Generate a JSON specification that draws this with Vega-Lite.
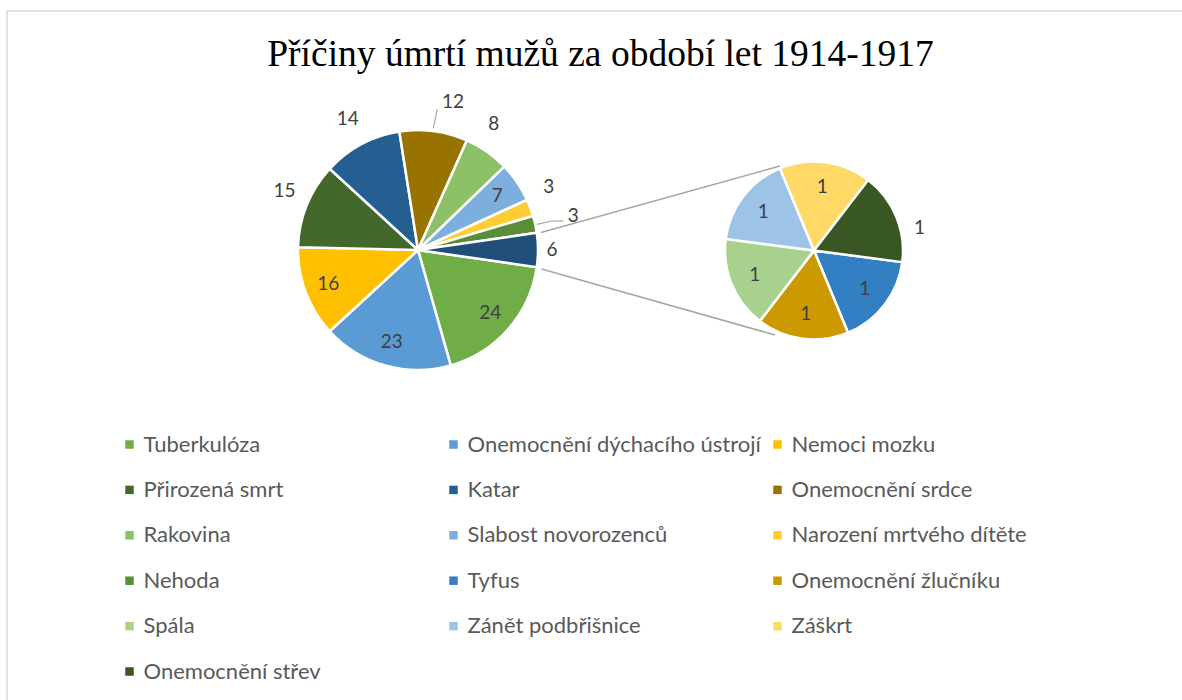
{
  "$schema": "https://vega.github.io/schema/vega-lite/v6.json",
  "width": 1182,
  "height": 700,
  "autosize": {"type": "fit", "contains": "padding"},
  "padding": {"left": 7, "top": 11, "right": -4, "bottom": -4},
  "background": "#ffffff",
  "config": {
    "view": {"stroke": "#d9d9d9", "strokeWidth": 1.5},
    "text": {"font": "Lato", "fontSize": 19, "fill": "#404040"}
  },
  "title": {
    "text": "Příčiny úmrtí mužů za období let 1914-1917",
    "font": "Liberation Serif",
    "fontSize": 37.5,
    "fontWeight": "normal",
    "color": "#000000",
    "anchor": "middle",
    "frame": "group",
    "baseline": "alphabetic",
    "offset": -92,
    "dx": 4
  },
  "datasets": {
    "main": [
      {"cause": "Tuberkulóza", "value": 24},
      {"cause": "Onemocnění dýchacího ústrojí", "value": 23},
      {"cause": "Nemoci mozku", "value": 16},
      {"cause": "Přirozená smrt", "value": 15},
      {"cause": "Katar", "value": 14},
      {"cause": "Onemocnění srdce", "value": 12},
      {"cause": "Rakovina", "value": 8},
      {"cause": "Slabost novorozenců", "value": 7},
      {"cause": "Narození mrtvého dítěte", "value": 3},
      {"cause": "Nehoda", "value": 3},
      {"cause": "Ostatní", "value": 6}
    ],
    "secondary": [
      {"cause": "Tyfus", "value": 1},
      {"cause": "Onemocnění žlučníku", "value": 1},
      {"cause": "Spála", "value": 1},
      {"cause": "Zánět podbřišnice", "value": 1},
      {"cause": "Záškrt", "value": 1},
      {"cause": "Onemocnění střev", "value": 1}
    ]
  },
  "layer": [
    {
      "data": {"values": [{}]},
      "mark": {"type": "rule", "color": "#a6a6a6", "strokeWidth": 1.5},
      "encoding": {"x": {"value": 534}, "y": {"value": 221.5}, "x2": {"value": 773}, "y2": {"value": 155}}
    },
    {
      "data": {"values": [{}]},
      "mark": {"type": "rule", "color": "#a6a6a6", "strokeWidth": 1.5},
      "encoding": {"x": {"value": 534.5}, "y": {"value": 258}, "x2": {"value": 768}, "y2": {"value": 324}}
    },
    {
      "data": {"values": [{}]},
      "mark": {"type": "rule", "color": "#a6a6a6", "strokeWidth": 1.2},
      "encoding": {"x": {"value": 426.3}, "y": {"value": 117.3}, "x2": {"value": 430.3}, "y2": {"value": 98}}
    },
    {
      "data": {"values": [{}]},
      "mark": {"type": "rule", "color": "#a6a6a6", "strokeWidth": 1.2},
      "encoding": {"x": {"value": 529.7}, "y": {"value": 213.3}, "x2": {"value": 544.7}, "y2": {"value": 210}}
    },
    {
      "data": {"values": [{}]},
      "mark": {"type": "rule", "color": "#a6a6a6", "strokeWidth": 1.2},
      "encoding": {"x": {"value": 544.7}, "y": {"value": 210}, "x2": {"value": 556.3}, "y2": {"value": 210}}
    },
    {
      "data": {"name": "main"},
      "transform": [{"window": [{"op": "row_number", "as": "idx"}]}],
      "encoding": {
        "theta": {"field": "value", "type": "quantitative", "stack": true, "scale": {"range": [1.7146, 7.9978]}},
        "order": {"field": "idx", "type": "quantitative"},
        "text": {"field": "value", "type": "quantitative"}
      },
      "layer": [
        {
          "mark": {"type": "arc", "x": 411, "y": 239, "outerRadius": 120, "stroke": "#ffffff", "strokeWidth": 2.5},
          "encoding": {
            "text": null,
            "color": {
              "field": "cause",
              "type": "nominal",
              "scale": {
                "domain": ["Tuberkulóza", "Onemocnění dýchacího ústrojí", "Nemoci mozku", "Přirozená smrt", "Katar", "Onemocnění srdce", "Rakovina", "Slabost novorozenců", "Narození mrtvého dítěte", "Nehoda", "Tyfus", "Onemocnění žlučníku", "Spála", "Zánět podbřišnice", "Záškrt", "Onemocnění střev", "Ostatní"],
                "range": ["#70AD47", "#5B9BD5", "#FFC000", "#43682B", "#255E91", "#997300", "#8CC168", "#7CAFDD", "#FFCD33", "#598D37", "#327FC3", "#CC9A00", "#A9D18E", "#9DC3E6", "#FFD966", "#385723", "#1F4E79"]
              },
              "legend": {
                "values": ["Tuberkulóza", "Onemocnění dýchacího ústrojí", "Nemoci mozku", "Přirozená smrt", "Katar", "Onemocnění srdce", "Rakovina", "Slabost novorozenců", "Narození mrtvého dítěte", "Nehoda", "Tyfus", "Onemocnění žlučníku", "Spála", "Zánět podbřišnice", "Záškrt", "Onemocnění střev"],
                "orient": "none",
                "legendX": 111.5,
                "legendY": 422.5,
                "direction": "horizontal",
                "columns": 3,
                "gridAlign": "all",
                "title": null,
                "padding": 0,
                "symbolType": "square",
                "symbolSize": 72,
                "symbolStrokeWidth": 0,
                "labelFont": "Lato",
                "labelFontSize": 22,
                "labelColor": "#595959",
                "labelLimit": 500,
                "labelOffset": 3,
                "columnPadding": 5,
                "rowPadding": 23.4
              }
            }
          }
        },
        {
          "mark": {"type": "text", "x": 411, "y": 239, "radius": 96},
          "encoding": {
            "opacity": {"condition": {"test": "indexof(['Tuberkulóza','Onemocnění dýchacího ústrojí','Nemoci mozku','Slabost novorozenců'], datum.cause) >= 0", "value": 1}, "value": 0}
          }
        },
        {
          "mark": {"type": "text", "x": 411, "y": 239, "radius": 146, "thetaOffset": 0.035},
          "encoding": {"opacity": {"condition": {"test": "datum.cause == 'Přirozená smrt'", "value": 1}, "value": 0}}
        },
        {
          "mark": {"type": "text", "x": 411, "y": 239, "radius": 149},
          "encoding": {"opacity": {"condition": {"test": "datum.cause == 'Katar'", "value": 1}, "value": 0}}
        },
        {
          "mark": {"type": "text", "x": 411, "y": 239, "radius": 152, "thetaOffset": 0.101},
          "encoding": {"opacity": {"condition": {"test": "datum.cause == 'Onemocnění srdce'", "value": 1}, "value": 0}}
        },
        {
          "mark": {"type": "text", "x": 411, "y": 239, "radius": 147, "thetaOffset": -0.07},
          "encoding": {"opacity": {"condition": {"test": "datum.cause == 'Rakovina'", "value": 1}, "value": 0}}
        },
        {
          "mark": {"type": "text", "x": 411, "y": 239, "radius": 145, "thetaOffset": -0.089},
          "encoding": {"opacity": {"condition": {"test": "datum.cause == 'Narození mrtvého dítěte'", "value": 1}, "value": 0}}
        },
        {
          "mark": {"type": "text", "x": 411, "y": 239, "radius": 159},
          "encoding": {"opacity": {"condition": {"test": "datum.cause == 'Nehoda'", "value": 1}, "value": 0}}
        },
        {
          "mark": {"type": "text", "x": 411, "y": 239, "radius": 134},
          "encoding": {"opacity": {"condition": {"test": "datum.cause == 'Ostatní'", "value": 1}, "value": 0}}
        }
      ]
    },
    {
      "data": {"name": "secondary"},
      "transform": [{"window": [{"op": "row_number", "as": "idx"}]}],
      "encoding": {
        "theta": {"field": "value", "type": "quantitative", "stack": true, "scale": {"range": [1.7017, 7.9849]}},
        "order": {"field": "idx", "type": "quantitative"}
      },
      "layer": [
        {
          "mark": {"type": "arc", "x": 807, "y": 239.5, "outerRadius": 89, "stroke": "#ffffff", "strokeWidth": 2.5},
          "encoding": {
            "color": {"field": "cause", "type": "nominal"}
          }
        },
        {
          "mark": {"type": "text", "x": 807, "y": 239.5, "radius": 64},
          "encoding": {
            "text": {"field": "value", "type": "quantitative"},
            "opacity": {"condition": {"test": "datum.cause == 'Onemocnění střev'", "value": 0}, "value": 1}
          }
        },
        {
          "mark": {"type": "text", "x": 807, "y": 239.5, "radius": 108, "thetaOffset": 0.18},
          "encoding": {
            "text": {"field": "value", "type": "quantitative"},
            "opacity": {"condition": {"test": "datum.cause == 'Onemocnění střev'", "value": 1}, "value": 0}
          }
        }
      ]
    }
  ],
  "resolve": {"scale": {"theta": "independent"}}
}
